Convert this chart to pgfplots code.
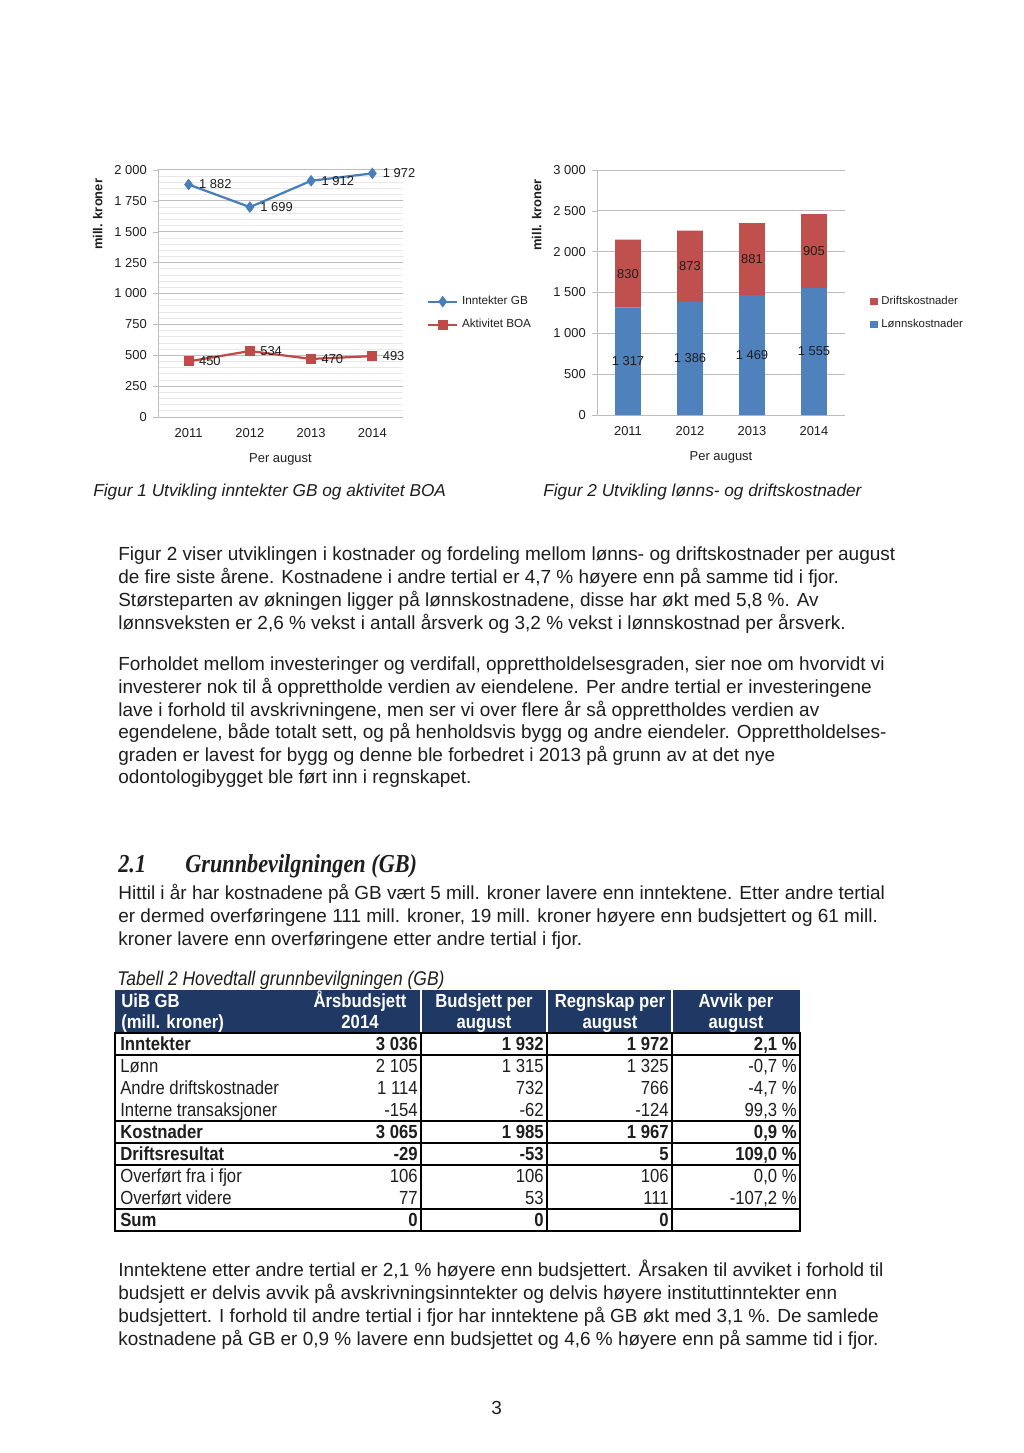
\documentclass[border=0pt]{standalone}
\usepackage{pgfplots}
\pgfplotsset{compat=1.18}
\usepackage{fontspec}
\setmainfont{Liberation Sans}
\newfontfamily\narrow[FakeStretch=0.88]{Liberation Sans}
\newfontfamily\headfont[FakeStretch=0.86]{Liberation Serif}
\definecolor{txt}{HTML}{1E1E1E}
\definecolor{gbblue}{HTML}{4A7EBB}
\definecolor{boared}{HTML}{BE4B48}
\definecolor{barblue}{HTML}{4F81BD}
\definecolor{barred}{HTML}{C0504D}
\definecolor{gridc}{HTML}{BDBDBD}
\definecolor{hdr}{HTML}{1F3864}
\newcommand{\fs}[1]{\fontsize{#1}{#1}\selectfont}
\newcommand{\trow}[6]{%
  \node[anchor=base west,inner sep=0,text=txt,font=\narrow\fs{11}#6] at (120,#1) {#2};
  \node[anchor=base east,inner sep=0,text=txt,font=\narrow\fs{11}#6] at (418,#1) {#3};
  \node[anchor=base east,inner sep=0,text=txt,font=\narrow\fs{11}#6] at (544,#1) {#4};
  \node[anchor=base east,inner sep=0,text=txt,font=\narrow\fs{11}#6] at (669,#1) {#5};
}
\pgfplotsset{
  chartbase/.style={
    scale only axis,
    anchor=south west,
    xmin=-0.5, xmax=3.5, ymin=0,
    xtick={0,1,2,3}, xticklabels={2011,2012,2013,2014},
    axis x line*=bottom, axis y line*=left,
    axis line style={gridc},
    tick style={gridc},
    major tick length=3pt,
    tick align=outside,
    x tick style={draw=none},
    ymajorgrids, grid style={gridc, line width=0.5pt},
    tick label style={font=\fs{7.5}, text=txt},
    label style={font=\fs{7.5}, text=txt},
    xlabel style={yshift=-2.5pt},
    /pgf/number format/.cd, 1000 sep={\ }, assume math mode=true,
    /pgfplots/.cd,
    clip=false,
  }
}
\begin{document}
\begin{tikzpicture}
\begin{scope}[x=0.58pt,y=-0.58pt]
\fill[white] (0,0) rectangle (1024,1453);
% figure captions
\node[anchor=base west,inner sep=0,text=txt,font=\itshape\fs{10}] at (93,496) {Figur 1 Utvikling inntekter GB og aktivitet BOA};
\node[anchor=base west,inner sep=0,text=txt,font=\itshape\fs{10}] at (543,496) {Figur 2 Utvikling lønns- og driftskostnader};
% paragraphs
\begin{scope}[every node/.style={anchor=base west,inner sep=0,text=txt,font=\fs{11}}]
\node at (118,560) {Figur 2 viser utviklingen i kostnader og fordeling mellom lønns- og driftskostnader per august};
\node at (118,583) {de fire siste årene. Kostnadene i andre tertial er 4,7 \% høyere enn på samme tid i fjor.};
\node at (118,606) {Størsteparten av økningen ligger på lønnskostnadene, disse har økt med 5,8 \%. Av};
\node at (118,629) {lønnsveksten er 2,6 \% vekst i antall årsverk og 3,2 \% vekst i lønnskostnad per årsverk.};
\node at (118,670) {Forholdet mellom investeringer og verdifall, opprettholdelsesgraden, sier noe om hvorvidt vi};
\node at (118,693) {investerer nok til å opprettholde verdien av eiendelene. Per andre tertial er investeringene};
\node at (118,716) {lave i forhold til avskrivningene, men ser vi over flere år så opprettholdes verdien av};
\node at (118,738) {egendelene, både totalt sett, og på henholdsvis bygg og andre eiendeler. Opprettholdelses-};
\node at (118,761) {graden er lavest for bygg og denne ble forbedret i 2013 på grunn av at det nye};
\node at (118,783) {odontologibygget ble ført inn i regnskapet.};
\node at (118,899) {Hittil i år har kostnadene på GB vært 5 mill. kroner lavere enn inntektene. Etter andre tertial};
\node at (118,922) {er dermed overføringene 111 mill. kroner, 19 mill. kroner høyere enn budsjettert og 61 mill.};
\node at (118,945) {kroner lavere enn overføringene etter andre tertial i fjor.};
\node at (118,1276) {Inntektene etter andre tertial er 2,1 \% høyere enn budsjettert. Årsaken til avviket i forhold til};
\node at (118,1299) {budsjett er delvis avvik på avskrivningsinntekter og delvis høyere instituttinntekter enn};
\node at (118,1322) {budsjettert. I forhold til andre tertial i fjor har inntektene på GB økt med 3,1 \%. De samlede};
\node at (118,1345) {kostnadene på GB er 0,9 \% lavere enn budsjettet og 4,6 \% høyere enn på samme tid i fjor.};
\node at (491,1414) {3};
\end{scope}
% heading
\node[anchor=base west,inner sep=0,text=txt,font=\headfont\bfseries\itshape\fs{15}] at (118,872) {2.1};
\node[anchor=base west,inner sep=0,text=txt,font=\headfont\bfseries\itshape\fs{15}] at (185,872) {Grunnbevilgningen (GB)};
% table caption
\node[anchor=base west,inner sep=0,text=txt,font=\narrow\itshape\fs{11.5}] at (117,985) {Tabell 2 Hovedtall grunnbevilgningen (GB)};
% table header
\fill[hdr] (115,990) rectangle (800,1033);
\draw[white,line width=0.8pt] (421,990) -- (421,1033) (547,990) -- (547,1033) (672,990) -- (672,1033);
\begin{scope}[every node/.style={inner sep=0,text=white,font=\narrow\bfseries\fs{11}}]
\node[anchor=base west] at (121,1007) {UiB GB};
\node[anchor=base west] at (121,1028) {(mill. kroner)};
\node[anchor=base] at (360,1007) {Årsbudsjett};
\node[anchor=base] at (360,1028) {2014};
\node[anchor=base] at (484,1007) {Budsjett per};
\node[anchor=base] at (484,1028) {august};
\node[anchor=base] at (610,1007) {Regnskap per};
\node[anchor=base] at (610,1028) {august};
\node[anchor=base] at (736,1007) {Avvik per};
\node[anchor=base] at (736,1028) {august};
\end{scope}
% table body rows
\trow{1050}{Inntekter}{3 036}{1 932}{1 972}{\bfseries}
\trow{1072}{Lønn}{2 105}{1 315}{1 325}{}
\trow{1094}{Andre driftskostnader}{1 114}{732}{766}{}
\trow{1116}{Interne transaksjoner}{-154}{-62}{-124}{}
\trow{1138}{Kostnader}{3 065}{1 985}{1 967}{\bfseries}
\trow{1160}{Driftsresultat}{-29}{-53}{5}{\bfseries}
\trow{1182}{Overført fra i fjor}{106}{106}{106}{}
\trow{1204}{Overført videre}{77}{53}{111}{}
\trow{1226}{Sum}{0}{0}{0}{\bfseries}
\begin{scope}[every node/.style={anchor=base east,inner sep=0,text=txt,font=\narrow\fs{11}}]
\node[font=\narrow\bfseries\fs{11}] at (797,1050) {2,1 \%};
\node at (797,1072) {-0,7 \%};
\node at (797,1094) {-4,7 \%};
\node at (797,1116) {99,3 \%};
\node[font=\narrow\bfseries\fs{11}] at (797,1138) {0,9 \%};
\node[font=\narrow\bfseries\fs{11}] at (797,1160) {109,0 \%};
\node at (797,1182) {0,0 \%};
\node at (797,1204) {-107,2 \%};
\end{scope}
\draw[black,line width=0.9pt] (115,1033) rectangle (800,1231);
\draw[black,line width=0.9pt] (421,1033) -- (421,1231) (547,1033) -- (547,1231) (672,1033) -- (672,1231);
\draw[black,line width=0.9pt] (115,1055) -- (800,1055) (115,1121) -- (800,1121) (115,1143) -- (800,1143) (115,1165) -- (800,1165) (115,1209) -- (800,1209);
\end{scope}

% ---------- Figure 1 ----------
\begin{axis}[chartbase,
  at={(91.64pt,-241.86pt)}, width=142.1pt, height=143.3pt,
  ymax=2000, ytick={0,250,...,2000},
  minor y tick num=4, yminorgrids, minor grid style={gray!18, line width=0.4pt},
  minor tick length=0pt,
  ylabel={\bfseries mill. kroner},
  ylabel style={at={(ticklabel cs:0.82)}},
  xlabel={Per august},
  legend style={at={(1.075,0.42)}, anchor=west, draw=none, fill=none, font=\fs{6.8}, text=txt, row sep=3pt},
  legend cell align=left,
  nodes near coords,
  every node near coord/.append style={anchor=west, xshift=2.5pt, font=\fs{7.5}, text=txt},
]
\addplot[color=gbblue, line width=1.3pt, mark=diamond*, mark size=3pt, mark options={fill=gbblue, line width=0.5pt}]
  coordinates {(0,1882) (1,1699) (2,1912) (3,1972)};
\addlegendentry{Inntekter GB}
\addplot[color=boared, line width=1.3pt, mark=square*, mark size=2.6pt, mark options={fill=boared, line width=0.5pt}]
  coordinates {(0,450) (1,534) (2,470) (3,493)};
\addlegendentry{Aktivitet BOA}
\end{axis}

% ---------- Figure 2 ----------
\begin{axis}[chartbase,
  at={(346.26pt,-240.7pt)}, width=143.84pt, height=142.1pt,
  ymax=3000, ytick={0,500,...,3000},
  ybar stacked, bar width=15pt,
  ylabel={\bfseries mill. kroner},
  ylabel style={at={(ticklabel cs:0.816)}},
  xlabel={Per august},
  legend style={at={(1.08,0.416)}, anchor=west, draw=none, fill=none, font=\fs{6.6}, text=txt, row sep=3pt},
  legend cell align=left,
  reverse legend,
  legend image code/.code={\fill[#1] (0pt,-2.2pt) rectangle (4.4pt,2.2pt);},
]
\addplot[fill=barblue, draw=none] coordinates {(0,1317) (1,1386) (2,1469) (3,1555)};
\addlegendentry{Lønnskostnader}
\addplot[fill=barred, draw=none] coordinates {(0,830) (1,873) (2,881) (3,905)};
\addlegendentry{Driftskostnader}
\end{axis}
% labels inside the bars
\begin{axis}[
  scale only axis, anchor=south west,
  at={(346.26pt,-240.7pt)}, width=143.84pt, height=142.1pt,
  xmin=-0.5, xmax=3.5, ymin=0, ymax=3000,
  axis lines=none, clip=false,
  nodes near coords, point meta=explicit symbolic,
  every node near coord/.append style={anchor=center, font=\fs{7.5}, text=txt},
]
\addplot[only marks, mark=none] coordinates {(0,658.5) [1 317] (1,693) [1 386] (2,734.5) [1 469] (3,777.5) [1 555]};
\addplot[only marks, mark=none] coordinates {(0,1732) [830] (1,1822.5) [873] (2,1909.5) [881] (3,2007.5) [905]};
\end{axis}
\end{tikzpicture}
\end{document}
